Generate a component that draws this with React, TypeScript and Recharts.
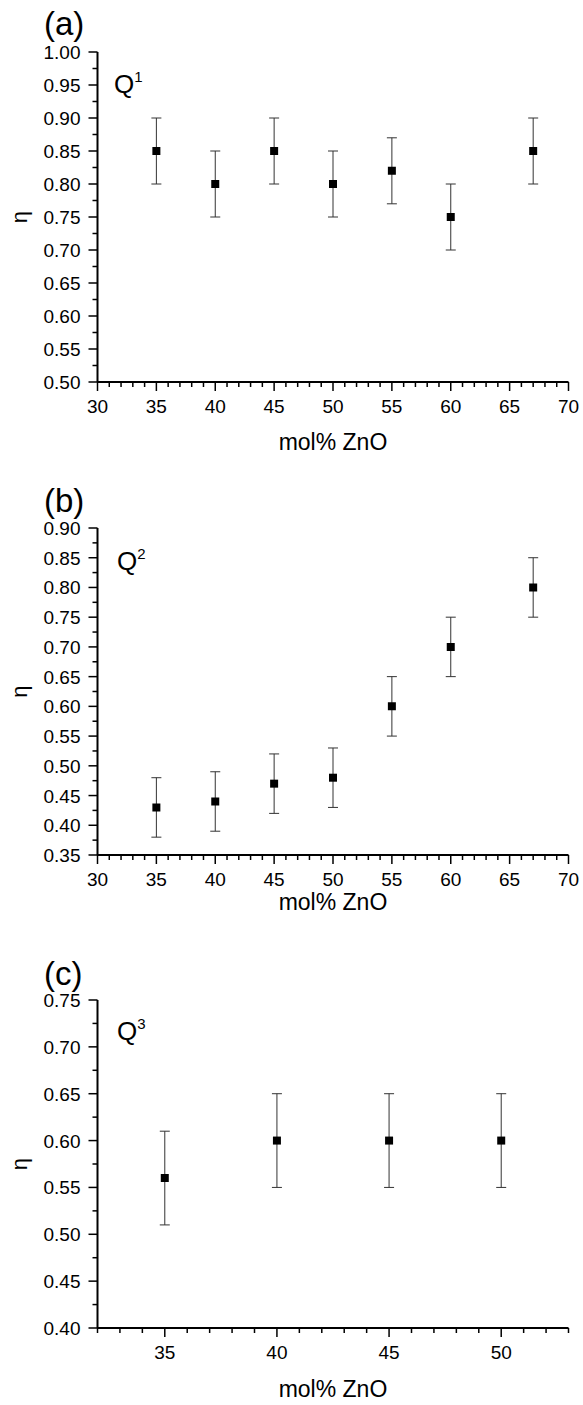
import { ErrorBar, Scatter, ScatterChart, XAxis, YAxis, ZAxis } from "recharts";

const FONT = "'Liberation Sans', Arial, Helvetica, sans-serif";

// (a) Q1
const q1Mol = [35, 40, 45, 50, 55, 60, 67];
const q1Eta = [0.85, 0.8, 0.85, 0.8, 0.82, 0.75, 0.85];
const q1Err = [0.05, 0.05, 0.05, 0.05, 0.05, 0.05, 0.05];

// (b) Q2
const q2Mol = [35, 40, 45, 50, 55, 60, 67];
const q2Eta = [0.43, 0.44, 0.47, 0.48, 0.6, 0.7, 0.8];
const q2Err = [0.05, 0.05, 0.05, 0.05, 0.05, 0.05, 0.05];

// (c) Q3
const q3Mol = [35, 40, 45, 50];
const q3Eta = [0.56, 0.6, 0.6, 0.6];
const q3Err = [0.05, 0.05, 0.05, 0.05];

// tick labels
const xTicksAB = [30, 35, 40, 45, 50, 55, 60, 65, 70];
const xTicksC = [35, 40, 45, 50];
const yTicksA = [0.5, 0.55, 0.6, 0.65, 0.7, 0.75, 0.8, 0.85, 0.9, 0.95, 1.0];
const yTicksB = [0.35, 0.4, 0.45, 0.5, 0.55, 0.6, 0.65, 0.7, 0.75, 0.8, 0.85, 0.9];
const yTicksC = [0.4, 0.45, 0.5, 0.55, 0.6, 0.65, 0.7, 0.75];

const X_MINOR = 1;
const Y_MINOR = 0.025;

const steps = (lo: number, hi: number, step: number) => {
  const out: number[] = [];
  const n = Math.round((hi - lo) / step);
  for (let i = 0; i <= n; i++) out.push(Math.round((lo + i * step) * 1000) / 1000);
  return out;
};

const isMajor = (v: number, majors: number[]) => majors.some((m) => Math.abs(m - v) < 1e-6);

const TICK = { stroke: "#000", strokeWidth: 1.5 };
const AXIS = { stroke: "#000", strokeWidth: 2 };
const MAJOR_LEN = 9;
const MINOR_LEN = 5;

const bottomTick = (majors: number[]) => (props: any) => {
  const { x, y, payload } = props;
  const major = isMajor(payload.value, majors);
  return (
    <g>
      <line x1={x} y1={y} x2={x} y2={y + (major ? MAJOR_LEN : MINOR_LEN)} {...TICK} />
      {major && (
        <text x={x} y={y + 31} textAnchor="middle" fontSize={19} fontFamily={FONT} fill="#000">
          {String(payload.value)}
        </text>
      )}
    </g>
  );
};

const topTick = (majors: number[]) => (props: any) => {
  const { x, y, payload } = props;
  const major = isMajor(payload.value, majors);
  return <line x1={x} y1={y} x2={x} y2={y + (major ? MAJOR_LEN : MINOR_LEN)} {...TICK} />;
};

const leftTick = (majors: number[]) => (props: any) => {
  const { x, y, payload } = props;
  const major = isMajor(payload.value, majors);
  return (
    <g>
      <line x1={x - (major ? MAJOR_LEN : MINOR_LEN)} y1={y} x2={x} y2={y} {...TICK} />
      {major && (
        <text x={x - 17} y={y + 7} textAnchor="end" fontSize={19} fontFamily={FONT} fill="#000">
          {Number(payload.value).toFixed(2)}
        </text>
      )}
    </g>
  );
};

const rightTick = (majors: number[]) => (props: any) => {
  const { x, y, payload } = props;
  const major = isMajor(payload.value, majors);
  return <line x1={x - (major ? MAJOR_LEN : MINOR_LEN)} y1={y} x2={x} y2={y} {...TICK} />;
};

type PanelProps = {
  top: number;
  plotTop: number;
  plotBottom: number;
  xDomain: [number, number];
  xMajor: number[];
  yDomain: [number, number];
  yMajor: number[];
  mol: number[];
  eta: number[];
  err: number[];
};

function Panel(p: PanelProps) {
  const data = p.mol.map((m, i) => ({ mol: m, eta: p.eta[i], err: p.err[i] }));
  const height = p.plotBottom - p.top + 77;
  const xAll = steps(p.xDomain[0], p.xDomain[1], X_MINOR);
  const yAll = steps(p.yDomain[0], p.yDomain[1], Y_MINOR);
  return (
    <div style={{ position: "absolute", left: 0, top: p.top }}>
      <ScatterChart
        width={583}
        height={height}
        margin={{ top: p.plotTop - p.top, right: 14.5, bottom: 0, left: 0 }}
      >
        <XAxis
          xAxisId="b"
          orientation="bottom"
          type="number"
          dataKey="mol"
          domain={p.xDomain}
          ticks={xAll}
          interval={0}
          allowDataOverflow
          height={77}
          tickSize={0}
          tickMargin={0}
          tickLine={false}
          axisLine={AXIS}
          tick={bottomTick(p.xMajor)}
        />
        <XAxis
          xAxisId="t"
          orientation="top"
          type="number"
          domain={p.xDomain}
          ticks={xAll}
          interval={0}
          allowDataOverflow
          height={0}
          tickSize={0}
          tickMargin={0}
          tickLine={false}
          axisLine={AXIS}
          tick={topTick(p.xMajor)}
        />
        <YAxis
          yAxisId="l"
          orientation="left"
          type="number"
          dataKey="eta"
          domain={p.yDomain}
          ticks={yAll}
          interval={0}
          allowDataOverflow
          width={97.5}
          tickSize={0}
          tickMargin={0}
          tickLine={false}
          axisLine={AXIS}
          tick={leftTick(p.yMajor)}
        />
        <YAxis
          yAxisId="r"
          orientation="right"
          type="number"
          domain={p.yDomain}
          ticks={yAll}
          interval={0}
          allowDataOverflow
          width={0}
          tickSize={0}
          tickMargin={0}
          tickLine={false}
          axisLine={AXIS}
          tick={rightTick(p.yMajor)}
        />
        <ZAxis range={[110, 110]} />
        <Scatter
          xAxisId="b"
          yAxisId="l"
          data={data}
          fill="#000"
          shape="square"
          isAnimationActive={false}
        >
          <ErrorBar
            dataKey="err"
            direction="y"
            width={5}
            stroke="#333"
            strokeWidth={1}
            isAnimationActive={false}
          />
        </Scatter>
      </ScatterChart>
    </div>
  );
}

function Annotations() {
  const t = { fontFamily: FONT, fill: "#000" };
  const panelLabel = (s: string, y: number) => (
    <text x={44} y={y} fontSize={33} {...t}>
      {s}
    </text>
  );
  const q = (n: string, x: number, y: number) => (
    <text x={x} y={y} fontSize={26} {...t}>
      Q
      <tspan dy={-11} fontSize={15}>
        {n}
      </tspan>
    </text>
  );
  const eta = (cy: number) => (
    <text transform={`translate(27,${cy}) rotate(-90)`} textAnchor="middle" fontSize={22} {...t}>
      η
    </text>
  );
  const title = (y: number) => (
    <text x={333} y={y} textAnchor="middle" fontSize={23} {...t}>
      mol% ZnO
    </text>
  );
  return (
    <svg
      width={583}
      height={1405}
      style={{ position: "absolute", left: 0, top: 0, pointerEvents: "none" }}
    >
      {panelLabel("(a)", 35)}
      {panelLabel("(b)", 512)}
      {panelLabel("(c)", 985)}
      {q("1", 114, 93)}
      {q("2", 117, 570)}
      {q("3", 117, 1040)}
      {eta(217)}
      {eta(691.5)}
      {eta(1164)}
      {title(450)}
      {title(910)}
      {title(1397)}
    </svg>
  );
}

export default function App() {
  return (
    <div
      style={{
        position: "absolute",
        left: 0,
        top: 0,
        width: 583,
        height: 1405,
        background: "#fff",
        overflow: "hidden",
      }}
    >
      <Panel
        top={0}
        plotTop={52}
        plotBottom={382}
        xDomain={[30, 70]}
        xMajor={xTicksAB}
        yDomain={[0.5, 1.0]}
        yMajor={yTicksA}
        mol={q1Mol}
        eta={q1Eta}
        err={q1Err}
      />
      <Panel
        top={470}
        plotTop={528}
        plotBottom={855}
        xDomain={[30, 70]}
        xMajor={xTicksAB}
        yDomain={[0.35, 0.9]}
        yMajor={yTicksB}
        mol={q2Mol}
        eta={q2Eta}
        err={q2Err}
      />
      <Panel
        top={943}
        plotTop={1000}
        plotBottom={1328}
        xDomain={[32, 53]}
        xMajor={xTicksC}
        yDomain={[0.4, 0.75]}
        yMajor={yTicksC}
        mol={q3Mol}
        eta={q3Eta}
        err={q3Err}
      />
      <Annotations />
    </div>
  );
}
